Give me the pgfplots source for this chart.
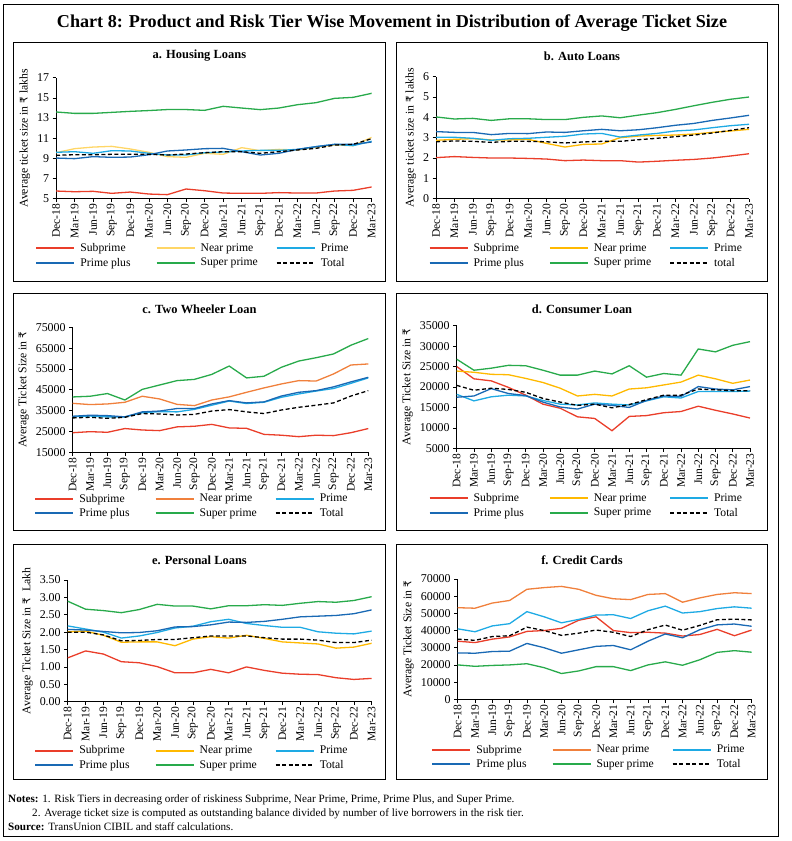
\documentclass[border=0pt]{standalone}
\usepackage{pgfplots}
\pgfplotsset{compat=1.18}
\usepackage{pgfplotstable}
\usepackage{fontspec}
\setmainfont{Liberation Serif}
\newfontfamily\rupeefont{DejaVu Sans}
\newcommand{\Rs}{{\rupeefont\fontsize{10.5}{11}\selectfont ₹}}

\definecolor{csub}{RGB}{234,62,42}
\definecolor{cnearA}{RGB}{255,214,102}
\definecolor{cnearB}{RGB}{255,185,0}
\definecolor{cnearC}{RGB}{240,128,60}
\definecolor{cprime}{RGB}{30,170,228}
\definecolor{cpplus}{RGB}{25,105,180}
\definecolor{csuper}{RGB}{40,170,75}

% x sub near prime pplus super total
\pgfplotstableread{
x sub near prime pplus super total
0 5.76 9.56 9.60 9.03 13.60 9.30
1 5.69 9.96 9.66 8.97 13.46 9.36
2 5.73 10.12 9.50 9.17 13.46 9.36
3 5.53 10.19 9.76 9.10 13.56 9.40
4 5.66 9.93 9.73 9.13 13.66 9.40
5 5.46 9.60 9.50 9.36 13.74 9.40
6 5.40 9.17 9.33 9.73 13.84 9.33
7 5.96 9.10 9.33 9.83 13.84 9.43
8 5.79 9.50 9.56 9.96 13.76 9.56
9 5.56 9.40 9.63 9.99 14.16 9.66
10 5.53 10.06 9.73 9.66 13.99 9.66
11 5.53 9.76 9.79 9.33 13.83 9.50
12 5.60 9.89 9.79 9.50 13.99 9.66
13 5.56 9.83 9.89 9.89 14.32 9.83
14 5.56 10.09 10.16 10.16 14.52 9.99
15 5.76 10.32 10.39 10.39 14.95 10.32
16 5.83 10.26 10.26 10.39 15.05 10.39
17 6.16 11.08 10.69 10.62 15.45 10.95
}\tA
\pgfplotstableread{
x sub near prime pplus super total
0 2.02 2.87 3.02 3.30 4.02 2.80
1 2.07 2.92 3.02 3.26 3.92 2.84
2 2.03 2.95 2.97 3.26 3.95 2.82
3 2.00 2.89 2.87 3.15 3.85 2.77
4 2.00 2.89 2.95 3.21 3.93 2.82
5 1.98 2.92 2.97 3.20 3.93 2.82
6 1.95 2.72 3.02 3.28 3.89 2.80
7 1.87 2.54 3.07 3.26 3.89 2.74
8 1.90 2.67 3.18 3.34 4.00 2.79
9 1.87 2.69 3.21 3.41 4.07 2.82
10 1.87 3.00 3.03 3.34 3.98 2.82
11 1.80 3.08 3.13 3.39 4.11 2.90
12 1.84 3.11 3.21 3.49 4.23 2.97
13 1.89 3.13 3.33 3.61 4.39 3.05
14 1.93 3.18 3.38 3.70 4.57 3.13
15 2.00 3.26 3.49 3.85 4.74 3.23
16 2.10 3.33 3.59 3.97 4.89 3.36
17 2.21 3.41 3.66 4.10 5.00 3.49
}\tB
\pgfplotstableread{
x sub near prime pplus super total
0 24400 38500 32100 32300 41560 31500
1 24900 37900 32400 32800 41900 31800
2 24600 38200 32000 32600 43200 31300
3 26400 39000 32000 32000 40100 31800
4 25700 41900 34000 34400 45200 33600
5 25400 40600 34500 34800 47300 33400
6 27200 38000 34400 36000 49400 32900
7 27500 37400 35600 36000 50000 33200
8 28400 40100 37600 38200 52400 34800
9 26700 41600 39600 39800 56400 35500
10 26500 43800 38400 38700 50700 34400
11 23600 45900 39000 39200 51500 33600
12 23200 47800 41400 42000 55800 35300
13 22500 49400 43000 43800 58800 36600
14 23200 49200 44400 44600 60400 37600
15 23000 52600 45600 46400 62200 38700
16 24400 56900 48100 48800 66400 42000
17 26400 57400 50700 51000 69600 44600
}\tC
\pgfplotstableread{
x sub near prime pplus super total
0 25000 23900 18200 17500 26800 20400
1 22000 23600 16600 17800 24100 19200
2 21500 23100 17600 19600 24600 19700
3 19900 23000 18000 18400 25300 19400
4 18000 22100 17800 17900 25200 18700
5 15800 21100 16700 16300 24100 17200
6 14800 19700 15800 15100 22900 16300
7 12700 17800 15600 14600 22900 15500
8 12300 18200 16100 15800 23900 15800
9 9300 17800 15800 15500 23200 14900
10 12800 19500 15600 15000 25200 15700
11 13000 19800 16600 16700 22400 16900
12 13700 20500 17600 17800 23300 18000
13 14000 21200 17300 17700 22900 18000
14 15300 22900 18900 20100 29300 19500
15 14300 22000 18900 19500 28600 19300
16 13400 20900 18900 19300 30200 19100
17 12400 21700 19000 20100 31100 19100
}\tD
\pgfplotstableread{
x sub near prime pplus super total
0 1.26 2.01 2.18 2.08 2.89 2.00
1 1.46 2.03 2.09 2.06 2.66 2.00
2 1.37 1.91 2.00 2.02 2.62 1.92
3 1.15 1.71 1.83 1.98 2.56 1.75
4 1.12 1.72 1.89 1.99 2.65 1.76
5 1.01 1.72 1.99 2.04 2.80 1.79
6 0.83 1.61 2.12 2.15 2.75 1.79
7 0.83 1.80 2.17 2.16 2.75 1.84
8 0.93 1.87 2.30 2.21 2.67 1.89
9 0.83 1.83 2.37 2.29 2.76 1.89
10 1.00 1.91 2.25 2.28 2.76 1.89
11 0.90 1.82 2.19 2.31 2.79 1.84
12 0.82 1.72 2.14 2.37 2.77 1.80
13 0.79 1.69 2.14 2.44 2.83 1.80
14 0.78 1.66 2.01 2.46 2.88 1.77
15 0.69 1.54 1.97 2.48 2.86 1.70
16 0.64 1.57 1.95 2.53 2.91 1.70
17 0.67 1.68 2.03 2.64 3.02 1.77
}\tE
\pgfplotstableread{
x sub near prime pplus super total
0 33800 53300 41000 27000 20000 35000
1 33000 53000 39300 26800 19200 34300
2 35000 56000 42700 27800 19700 36500
3 36300 57500 44000 28000 20000 37000
4 39500 64000 51000 32500 20700 42000
5 40000 65000 48000 30000 18400 40000
6 41300 65700 44500 26800 15000 37200
7 46000 64000 46500 28800 16500 38500
8 48000 60500 49000 30800 19000 40300
9 40000 58500 49200 31300 19000 39000
10 38800 58000 47000 28800 16700 36500
11 39000 61000 51500 33800 20000 40500
12 38500 61500 54200 38000 21800 43200
13 36800 56500 50200 35800 19800 40200
14 37700 59000 51000 40500 23000 43000
15 40700 61000 52800 43300 27300 46300
16 37000 62000 53800 43800 28300 46600
17 40300 61500 53000 42500 27400 46200
}\tF

\pgfplotsset{
  panel/.style={
    scale only axis,
    axis x line*=bottom, axis y line*=left,
    axis line style={black, line width=0.8bp},
    tick style={black, line width=0.6bp},
    tick align=outside, major tick length=3.5bp,
    xmin=0, xmax=17, xtick={0,...,17},
    xticklabels={Dec-18,Mar-19,Jun-19,Sep-19,Dec-19,Mar-20,Jun-20,Sep-20,Dec-20,Mar-21,Jun-21,Sep-21,Dec-21,Mar-22,Jun-22,Sep-22,Dec-22,Mar-23},
    x tick label style={rotate=90, anchor=east, font=\fontsize{11.6}{13}\selectfont, inner sep=1.5bp},
    y tick label style={font=\fontsize{12}{13}\selectfont},
    ylabel style={font=\fontsize{11.8}{13}\selectfont},
    scaled y ticks=false,
    /pgf/number format/assume math mode=true,
    /pgf/number format/1000 sep={},
    legend columns=3,
    legend cell align=left,
    legend image code/.code={\draw[##1, line width=2.2bp] (0bp,0bp) -- (38bp,0bp);},
    legend style={draw=none, fill=none, font=\fontsize{11.7}{13}\selectfont,
      at={(axis description cs:0,0)}, anchor=north west, inner sep=0pt,
      row sep=5bp, nodes={inner sep=0pt},
      /tikz/every odd column/.append style={column sep=5bp}},
    every axis plot/.append style={line width=1.3bp, mark=none},
  },
}

% the six series of one panel
\newcommand{\panelplots}[3]{%
  \addplot[csub] table[x=x,y=sub]{#1};
  \addlegendentry{\makebox[75bp][l]{Subprime}}
  \addplot[#2] table[x=x,y=near]{#1};
  \addlegendentry{\makebox[75bp][l]{Near prime}}
  \addplot[cprime] table[x=x,y=prime]{#1};
  \addlegendentry{\makebox[75bp][l]{Prime}}
  \addplot[cpplus] table[x=x,y=pplus]{#1};
  \addlegendentry{\makebox[75bp][l]{Prime plus}}
  \addplot[csuper] table[x=x,y=super]{#1};
  \addlegendentry{\makebox[75bp][l]{Super prime}}
  \addplot[black, dash pattern=on 4bp off 2.5bp] table[x=x,y=total]{#1};
  \addlegendentry{\makebox[75bp][l]{#3}}
}

\begin{document}
\begin{tikzpicture}
\begin{scope}[x=1bp,y=1bp]
  \useasboundingbox (0,0) rectangle (784,841);
  \draw[line width=0.9bp] (3,4.3) rectangle (778.7,836.3);
  \node[font=\bfseries\fontsize{18.2}{21}\selectfont] at (392,817.7)
    {Chart 8: Product and Risk Tier Wise Movement in Distribution of Average Ticket Size};
  \foreach \xa/\xb in {13/385.7, 396/767.7} {
    \draw[line width=0.9bp] (\xa,559.7) rectangle (\xb,798.3);
    \draw[line width=0.9bp] (\xa,311) rectangle (\xb,547.7);
    \draw[line width=0.9bp] (\xa,62) rectangle (\xb,297);
  }
  \begin{scope}[every node/.style={font=\bfseries\fontsize{12.5}{14}\selectfont}]
    \node at (199.4,785) {a. Housing Loans};
    \node at (582,785) {b. Auto Loans};
    \node at (199.4,532) {c. Two Wheeler Loan};
    \node at (582,532) {d. Consumer Loan};
    \node at (199.4,281) {e. Personal Loans};
    \node at (582,281) {f. Credit Cards};
  \end{scope}
  \begin{scope}[every node/.style={font=\fontsize{11.2}{13}\selectfont, anchor=west, inner sep=0pt}]
    \node at (8,41) {\textbf{Notes:} 1. Risk Tiers in decreasing order of riskiness Subprime, Near Prime, Prime, Prime Plus, and Super Prime.};
    \node at (32,27) {2. Average ticket size is computed as outstanding balance divided by number of live borrowers in the risk tier.};
    \node at (8,14) {\textbf{Source:} TransUnion CIBIL and staff calculations.};
  \end{scope}
\end{scope}

% a. Housing Loans
\begin{axis}[panel, at={(56bp,642.3bp)}, anchor=south west,
  width=315.7bp, height=121bp, ymin=5, ymax=17, ytick={5,7,...,17},
  ylabel={Average ticket size in \Rs{} lakhs},
  legend style={xshift=-21bp, yshift=-44.5bp}]
  \panelplots{\tA}{cnearA}{Total}
\end{axis}

% b. Auto Loans
\begin{axis}[panel, at={(436bp,642.3bp)}, anchor=south west,
  width=313bp, height=122bp, ymin=0, ymax=6, ytick={0,...,6},
  ylabel={Average ticket size in \Rs{} lakhs},
  legend style={xshift=-7.7bp, yshift=-44.5bp}]
  \panelplots{\tB}{cnearB}{total}
\end{axis}

% c. Two Wheeler Loan
\begin{axis}[panel, at={(72.7bp,388.7bp)}, anchor=south west,
  width=295.6bp, height=125bp, ymin=15000, ymax=75000, ytick={15000,25000,...,75000},
  ylabel={Average Ticket Size in \Rs},
  legend style={xshift=-38.7bp, yshift=-41.5bp}]
  \panelplots{\tC}{cnearC}{Total}
\end{axis}

% d. Consumer Loan
\begin{axis}[panel, at={(456.7bp,392.7bp)}, anchor=south west,
  width=293.3bp, height=122.6bp, ymin=5000, ymax=35000, ytick={5000,10000,...,35000},
  ylabel={Average Ticket Size in \Rs},
  legend style={xshift=-28.4bp, yshift=-45bp}]
  \panelplots{\tD}{cnearB}{Total}
\end{axis}

% e. Personal Loans
\begin{axis}[panel, at={(67.7bp,139.3bp)}, anchor=south west,
  width=304bp, height=121.7bp, ymin=0, ymax=3.5, ytick={0,0.5,...,3.5},
  yticklabels={0.00,0.50,1.00,1.50,2.00,2.50,3.00,3.50},
  ylabel={Average Ticket Size in \Rs{}~ Lakh},
  legend style={xshift=-33.7bp, yshift=-44bp}]
  \panelplots{\tE}{cnearB}{Total}
\end{axis}

% f. Credit Cards
\begin{axis}[panel, at={(457.7bp,141.7bp)}, anchor=south west,
  width=294bp, height=120.3bp, ymin=0, ymax=70000, ytick={0,10000,...,70000},
  ylabel={Average Ticket Size in \Rs},
  legend style={xshift=-26.7bp, yshift=-45.5bp}]
  \panelplots{\tF}{cnearC}{Total}
\end{axis}
\end{tikzpicture}
\end{document}
